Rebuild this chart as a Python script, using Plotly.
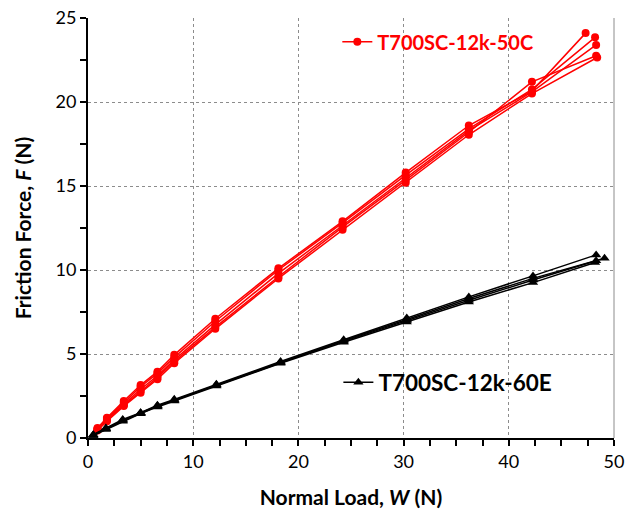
import plotly.graph_objects as go

# Red series: T700SC-12k-50C
red_x = [0.9, 1.8, 3.4, 5.0, 6.6, 8.2, 12.1, 18.1, 24.2, 30.2, 36.2, 42.2]
red_last_x = [47.3, 48.2, 48.3, 48.3, 48.4]
red_series = [
    [0.60, 1.20, 2.20, 3.15, 3.95, 4.95, 7.10, 10.10, 12.90, 15.80, 18.60, 20.65, 24.10],
    [0.55, 1.15, 2.10, 3.05, 3.85, 4.80, 6.95, 10.00, 12.80, 15.65, 18.40, 20.75, 23.85],
    [0.50, 1.10, 2.00, 2.90, 3.70, 4.65, 6.75, 9.80, 12.65, 15.50, 18.30, 20.60, 23.40],
    [0.50, 1.05, 1.95, 2.80, 3.60, 4.55, 6.60, 9.60, 12.55, 15.35, 18.20, 21.20, 22.75],
    [0.45, 1.00, 1.90, 2.70, 3.50, 4.45, 6.50, 9.50, 12.40, 15.20, 18.05, 20.50, 22.65],
]

# Black series: T700SC-12k-60E
black_x = [0.5, 1.7, 3.3, 5.0, 6.6, 8.2, 12.2, 18.3, 24.3, 30.3, 36.2, 42.3]
black_last_x = [48.3, 49.1, 48.3, 48.2]
black_series = [
    [0.20, 0.60, 1.10, 1.50, 1.95, 2.30, 3.20, 4.55, 5.85, 7.15, 8.40, 9.65, 10.90],
    [0.20, 0.55, 1.05, 1.50, 1.90, 2.25, 3.15, 4.50, 5.80, 7.05, 8.30, 9.50, 10.70],
    [0.15, 0.55, 1.05, 1.45, 1.90, 2.25, 3.15, 4.50, 5.75, 7.00, 8.20, 9.40, 10.55],
    [0.15, 0.50, 1.00, 1.45, 1.85, 2.20, 3.10, 4.45, 5.70, 6.90, 8.10, 9.25, 10.45],
]

red_name = "T700SC-12k-50C"
black_name = "T700SC-12k-60E"
x_ticks = [0, 10, 20, 30, 40, 50]
y_ticks = [0, 5, 10, 15, 20, 25]
x_minor_ticks = [2.5 * k for k in range(21)]
y_minor_ticks = [2.5 * k for k in range(11)]

FONT = "Lato"
fig = go.Figure()

for i, ys in enumerate(red_series):
    fig.add_trace(go.Scatter(
        x=red_x + [red_last_x[i]], y=ys, mode="lines+markers",
        line=dict(color="#ff0000", width=1.5),
        marker=dict(symbol="circle", size=8, color="#ff0000"),
        name=red_name, showlegend=(i == 0), legend="legend",
    ))

for i, ys in enumerate(black_series):
    fig.add_trace(go.Scatter(
        x=black_x + [black_last_x[i]], y=ys, mode="lines+markers",
        line=dict(color="#000000", width=1.5),
        marker=dict(symbol="triangle-up", size=9, color="#000000"),
        name=black_name, showlegend=(i == 0), legend="legend2",
    ))

axis_common = dict(
    showline=True, linecolor="black", linewidth=2,
    ticks="outside", ticklen=6, tickwidth=2, tickcolor="black",
    showgrid=True, gridcolor="#8c8c8c", griddash="3px,3px", gridwidth=1,
    zeroline=False, automargin=False,
    tickfont=dict(family=FONT, size=18, color="black"),
)

fig.update_xaxes(
    range=[0, 50], tickvals=x_ticks,
    minor=dict(ticks="outside", ticklen=6, tickwidth=2, tickcolor="black",
               tickvals=x_minor_ticks, showgrid=False),
    title=dict(text="<b>Normal Load, <i>W</i> (N)</b>", font=dict(family=FONT, size=21, color="black"), standoff=21),
    **axis_common,
)
fig.update_yaxes(
    range=[0, 25], tickvals=y_ticks,
    minor=dict(ticks="outside", ticklen=6, tickwidth=2, tickcolor="black",
               tickvals=y_minor_ticks, showgrid=False),
    title=dict(text="<b>Friction Force, <i>F</i> (N)</b>", font=dict(family=FONT, size=21, color="black"), standoff=18),
    **axis_common,
)

fig.add_shape(type="line", xref="paper", yref="paper", x0=1, x1=1, y0=0, y1=1,
              line=dict(color="#8c8c8c", width=1))

fig.update_layout(
    width=635, height=509,
    margin=dict(l=88, r=21, t=18, b=71),
    plot_bgcolor="white", paper_bgcolor="white",
    legend=dict(x=0.474, y=0.9436, xanchor="left", yanchor="middle",
                bgcolor="rgba(0,0,0,0)", itemwidth=30,
                font=dict(family=FONT, size=20, color="#ff0000", weight="bold")),
    legend2=dict(x=0.476, y=0.1317, xanchor="left", yanchor="middle",
                 bgcolor="rgba(0,0,0,0)", itemwidth=30,
                 font=dict(family=FONT, size=22.5, color="#000000", weight="bold")),
)

fig.write_html("out.html", config={"displayModeBar": False},
               post_script="document.body.style.margin='0';")
